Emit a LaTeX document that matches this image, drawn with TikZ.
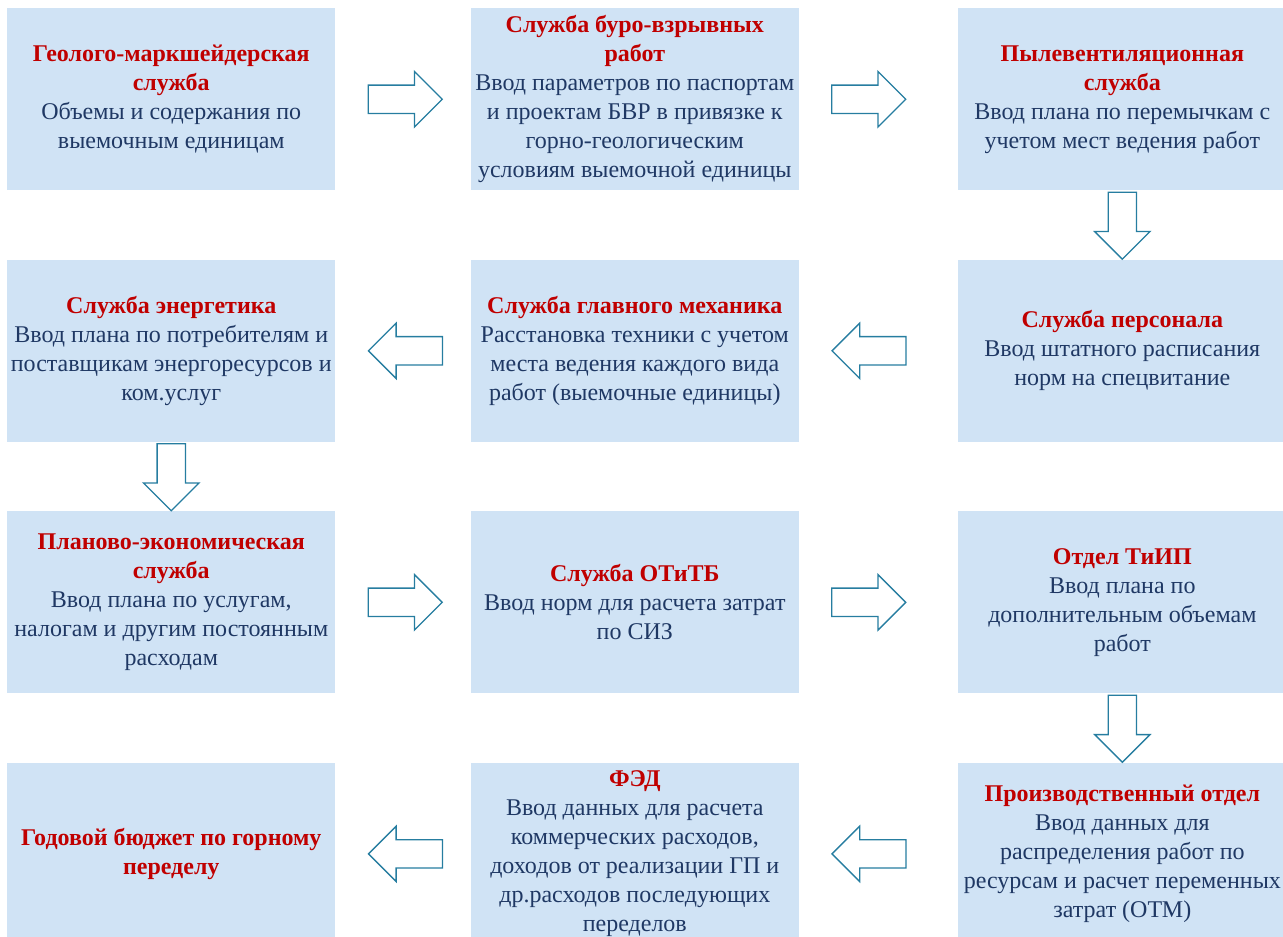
\documentclass[tikz,border=0pt]{standalone}
\usepackage{fontspec}
\setmainfont{Liberation Serif}
\usepackage{tikz}
\usetikzlibrary{shapes,arrows}
\usetikzlibrary{positioning}
\definecolor{boxblue}{RGB}{208,227,245}
\definecolor{headred}{RGB}{192,0,0}
\definecolor{textnavy}{RGB}{31,56,100}
\definecolor{arrowteal}{RGB}{38,125,160}
\tikzstyle{dept} = [rectangle, 
fill=boxblue, 
minimum width=246pt, 
minimum height=136.5pt, 
align=center, 
inner sep=0pt, 
text=textnavy, 
font=\fontsize{18}{21.75}\selectfont]
\tikzstyle{flow} = [single arrow, 
draw=arrowteal, 
line width=1pt, 
fill=white, 
minimum height=55.5pt, 
inner xsep=0pt, 
inner ysep=10.125pt, 
single arrow head extend=10.125pt]
\tikzstyle{flowdown} = [flow, 
shape border rotate=270, 
inner xsep=10.125pt, 
inner ysep=0pt, 
minimum height=50.25pt]
\newcommand{\hd}[1]{{\bfseries\color{headred}#1}}

\begin{document}
\begin{tikzpicture}[x=0.75pt, y=-0.75pt, node distance=51.75pt and 101.25pt]
	\useasboundingbox (0,0) rectangle (1283,937);
	%% Row 1
	\node [dept, anchor=north west] (geo) at (7,8) {\hd{Геолого-маркшейдерская}\\\hd{служба}\\Объемы и содержания по\\выемочным единицам};
	\node [dept, right=of geo] (bvr) {\hd{Служба буро-взрывных}\\\hd{работ}\\Ввод параметров по паспортам\\и проектам БВР в привязке к\\горно-геологическим\\условиям выемочной единицы};
	\node [dept, right=119.25pt of bvr] (vent) {\hd{Пылевентиляционная}\\\hd{служба}\\Ввод плана по перемычкам с\\учетом мест ведения работ};
	%% Row 2
	\node [dept, below=of vent] (pers) {\hd{Служба персонала}\\Ввод штатного расписания\\норм на спецвитание};
	\node [dept, left=119.25pt of pers] (mech) {\hd{Служба главного механика}\\Расстановка техники с учетом\\места ведения каждого вида\\работ (выемочные единицы)};
	\node [dept, left=of mech] (energy) {\hd{Служба энергетика}\\Ввод плана по потребителям и\\поставщикам энергоресурсов и\\ком.услуг};
	%% Row 3
	\node [dept, below=of energy] (plan) {\hd{Планово-экономическая}\\\hd{служба}\\Ввод плана по услугам,\\налогам и другим постоянным\\расходам};
	\node [dept, right=of plan] (otitb) {\hd{Служба ОТиТБ}\\Ввод норм для расчета затрат\\по СИЗ};
	\node [dept, right=119.25pt of otitb] (tiip) {\hd{Отдел ТиИП}\\Ввод плана по\\дополнительным объемам\\работ};
	%% Row 4
	\node [dept, below=of tiip] (prod) {\hd{Производственный отдел}\\Ввод данных для\\распределения работ по\\ресурсам и расчет переменных\\затрат (ОТМ)};
	\node [dept, left=119.25pt of prod] (fed) {\hd{ФЭД}\\Ввод данных для расчета\\коммерческих расходов,\\доходов от реализации ГП и\\др.расходов последующих\\переделов};
	\node [dept, left=of fed] (budget) {\hd{Годовой бюджет по горному}\\\hd{переделу}};
	%% Block arrows
	\node [flow, right=24pt of geo] (a1) {};
	\node [flow, right=24pt of bvr] (a2) {};
	\node [flowdown, below=0.75pt of vent] (a3) {};
	\node [flow, shape border rotate=180, right=24pt of mech] (a4) {};
	\node [flow, shape border rotate=180, right=24pt of energy] (a5) {};
	\node [flowdown, below=0.75pt of energy] (a6) {};
	\node [flow, right=24pt of plan] (a7) {};
	\node [flow, right=24pt of otitb] (a8) {};
	\node [flowdown, below=0.75pt of tiip] (a9) {};
	\node [flow, shape border rotate=180, right=24pt of fed] (a10) {};
	\node [flow, shape border rotate=180, right=24pt of budget] (a11) {};
\end{tikzpicture}
\end{document}
